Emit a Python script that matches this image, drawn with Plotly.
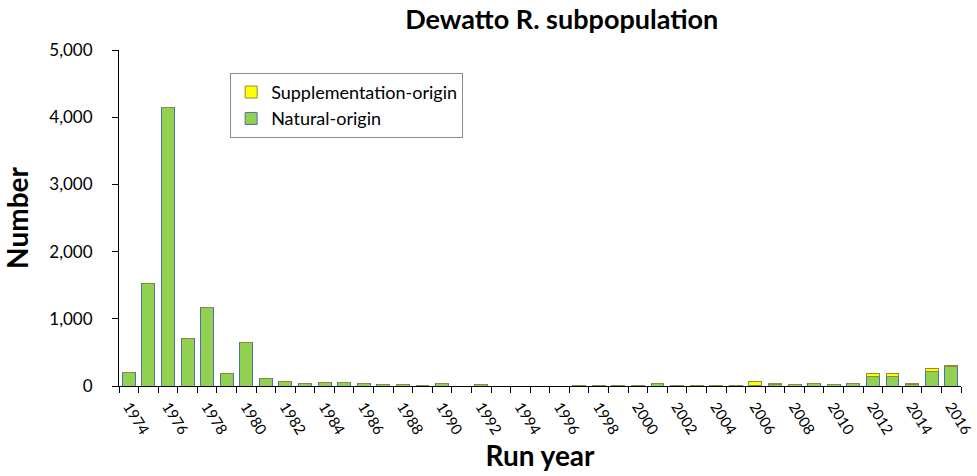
import plotly.graph_objects as go

years = list(range(1974, 2017))
natural = [200, 1520, 4150, 710, 1170, 190, 640, 105, 70, 40, 55, 55, 40, 15, 15, 10,
           35, 0, 15, 0, 0, 0, 0, 10, 10, 10, 10, 30, 10, 5, 10, 10,
           12, 20, 15, 35, 15, 30, 145, 140, 20, 215, 295]
supplementation = [0, 0, 0, 0, 0, 0, 0, 0, 0, 0, 0, 0, 0, 0, 0, 0,
                   0, 0, 0, 0, 0, 0, 0, 0, 0, 0, 0, 0, 0, 3, 0, 0,
                   60, 15, 0, 0, 0, 0, 40, 45, 10, 45, 10]
label_years = list(range(1974, 2017, 2))

FONT = "Lato"

fig = go.Figure()
fig.add_trace(go.Bar(x=years, y=natural, name="Natural-origin",
                     marker=dict(color="#92D050", line=dict(color="#4F6FB0", width=1))))
fig.add_trace(go.Bar(x=years, y=supplementation, name="Supplementation-origin",
                     marker=dict(color="#FFFF00", line=dict(color="#8C8C3C", width=1))))

fig.update_layout(
    width=977, height=476,
    barmode="stack", bargap=0.34,
    plot_bgcolor="white", paper_bgcolor="white",
    margin=dict(l=119, r=16, t=50, b=90, autoexpand=False),
    font=dict(family=FONT, size=17, color="black"),
    title=dict(text="<b>Dewatto R. subpopulation</b>", x=0.575, xanchor="center",
               y=0.958, yanchor="middle", font=dict(size=27, family=FONT)),
    legend=dict(x=0.132, y=0.932, xanchor="left", yanchor="top",
                bordercolor="#8c8c8c", borderwidth=1, traceorder="reversed",
                font=dict(size=18, family=FONT), itemwidth=30,
                bgcolor="white"),
    showlegend=True,
)
fig.update_xaxes(
    range=[1973.5, 2016.5],
    tickmode="array", tickvals=label_years, ticktext=[str(y) for y in label_years],
    ticks="", tickangle=58, tickfont=dict(size=15), ticklabeloverflow="allow",
    ticklabelstandoff=5,
    minor=dict(tick0=1973.5, dtick=1, ticks="outside", ticklen=6, tickcolor="black"),
    showline=True, linecolor="black", linewidth=1, showgrid=False, zeroline=False,
    title=dict(text="<b>Run year</b>", font=dict(size=28, family=FONT), standoff=4),
)
fig.update_yaxes(
    range=[0, 5000], tickvals=[0, 1000, 2000, 3000, 4000, 5000],
    tickformat=",", ticks="outside", ticklen=6, tickcolor="black",
    ticklabelstandoff=16,
    showline=True, linecolor="black", linewidth=1, showgrid=False, zeroline=False,
    title=dict(text="<b>Number</b>", font=dict(size=28, family=FONT), standoff=12),
)

fig.write_html("out.html", config={"displayModeBar": False},
               post_script="document.body.style.margin='0';")
